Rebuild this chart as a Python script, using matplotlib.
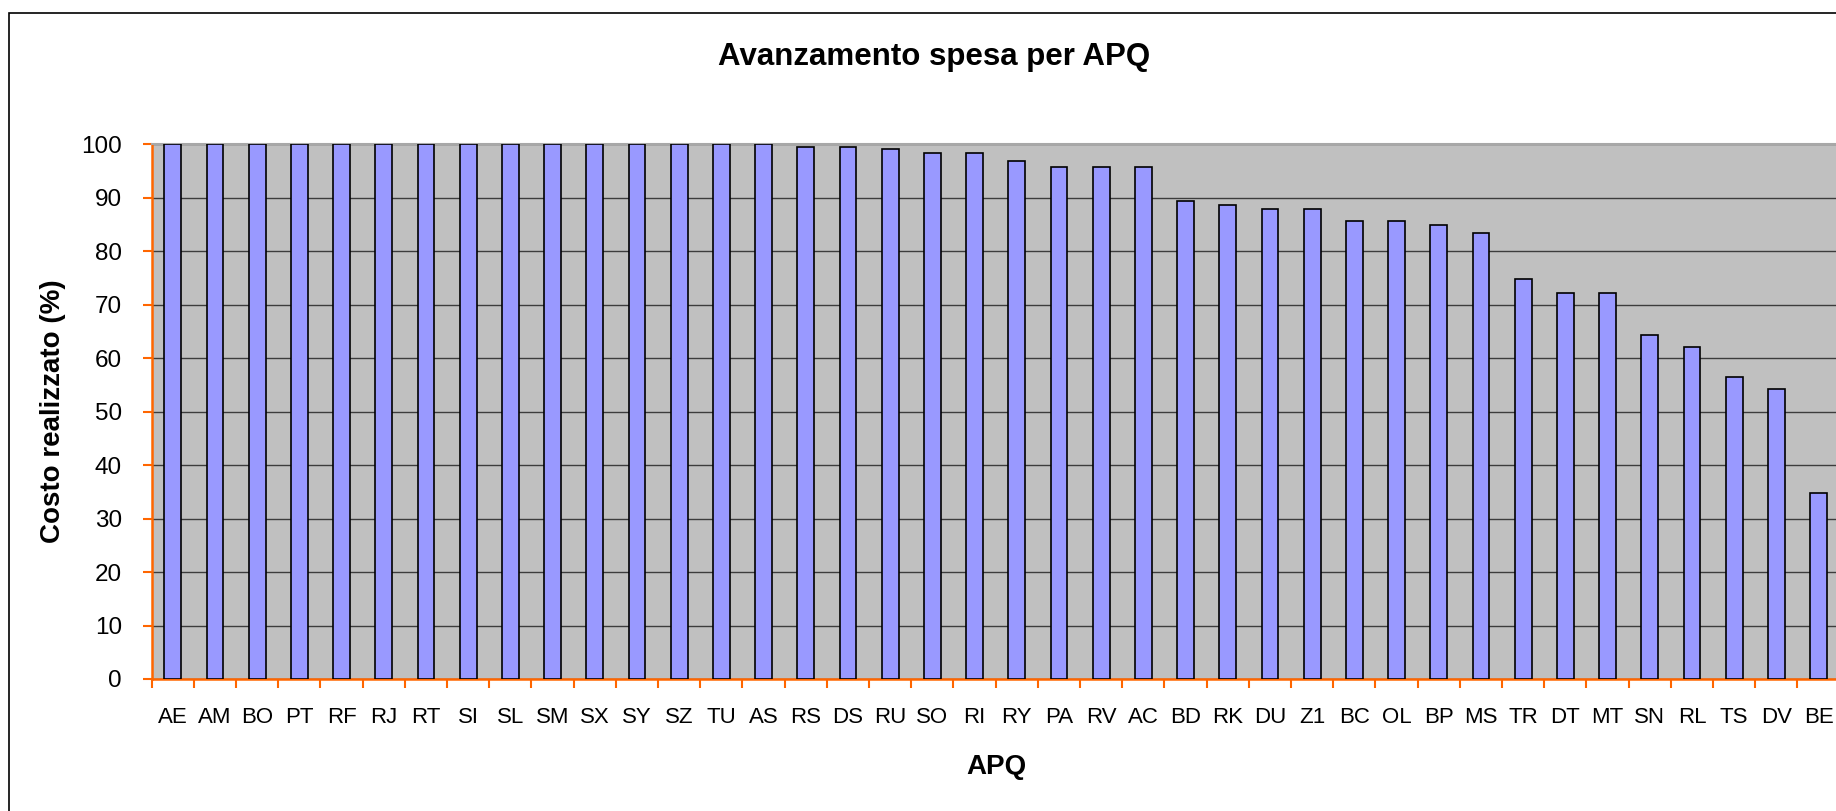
import matplotlib.pyplot as plt
from matplotlib.patches import Rectangle

# Dati
apq = ["AE", "AM", "BO", "PT", "RF", "RJ", "RT", "SI", "SL", "SM",
       "SX", "SY", "SZ", "TU", "AS", "RS", "DS", "RU", "SO", "RI",
       "RY", "PA", "RV", "AC", "BD", "RK", "DU", "Z1", "BC", "OL",
       "BP", "MS", "TR", "DT", "MT", "SN", "RL", "TS", "DV", "BE"]
costo = [100, 100, 100, 100, 100, 100, 100, 100, 100, 100,
         100, 100, 100, 100, 100, 99.6, 99.6, 99.2, 98.4, 98.4,
         96.9, 95.8, 95.8, 95.8, 89.4, 88.7, 87.9, 87.9, 85.6, 85.6,
         84.9, 83.4, 74.9, 72.2, 72.2, 64.4, 62.1, 56.5, 54.3, 34.8]
yticks = list(range(0, 101, 10))

plt.rcParams['font.family'] = ['Liberation Sans', 'DejaVu Sans']

fig = plt.figure(figsize=(18.36, 8.11), dpi=100)
ax = fig.add_axes([0.0826, 0.1628, 0.9194, 0.6591])

x = list(range(len(apq)))
ax.bar(x, costo, width=0.4, color="#9999FF", edgecolor="black", linewidth=1.2, zorder=3)

ax.set_facecolor("#C0C0C0")
ax.set_xlim(-0.5, len(apq) - 0.5)
ax.set_ylim(0, 100)
ax.set_yticks(yticks)
ax.yaxis.grid(True, color="#3c3c3c", linewidth=1.0, zorder=1)
ax.set_axisbelow(True)

# tick sulle separazioni, etichette al centro delle barre
ax.set_xticks([i - 0.5 for i in range(len(apq))], minor=False)
ax.set_xticklabels([])
ax.set_xticks(x, minor=True)
ax.set_xticklabels(apq, minor=True)
ax.tick_params(axis="x", which="major", direction="out", length=6.5, width=1.5, color="#FF6600")
ax.tick_params(axis="x", which="minor", length=0, pad=20, labelsize=16)
ax.tick_params(axis="y", direction="out", length=6.5, width=1.5, color="#FF6600", pad=15, labelsize=17.5)

for side in ["left", "bottom"]:
    ax.spines[side].set_color("#FF6600")
    ax.spines[side].set_linewidth(1.8)
ax.spines["top"].set_color("#A8A8A8")
ax.spines["top"].set_linewidth(1.5)
ax.spines["right"].set_visible(False)

fig.text(0.5087, 0.9297, "Avanzamento spesa per APQ", ha="center", va="center",
         fontsize=22.5, fontweight="bold")
ax.set_xlabel("APQ", fontsize=20, fontweight="bold")
ax.xaxis.set_label_coords(0.5429, 0.0546, transform=fig.transFigure)
ax.set_ylabel("Costo realizzato (%)", fontsize=20, fontweight="bold")
ax.yaxis.set_label_coords(0.0289, 0.4932, transform=fig.transFigure)
ax.xaxis.label.set_va("center")
ax.yaxis.label.set_va("center")

# cornice del grafico
fig.patches.append(Rectangle((0.0049, -0.1), 1.2, 1.0843, transform=fig.transFigure,
                             fill=False, edgecolor="black", linewidth=1.2))

fig.savefig("out.png", dpi=100)
